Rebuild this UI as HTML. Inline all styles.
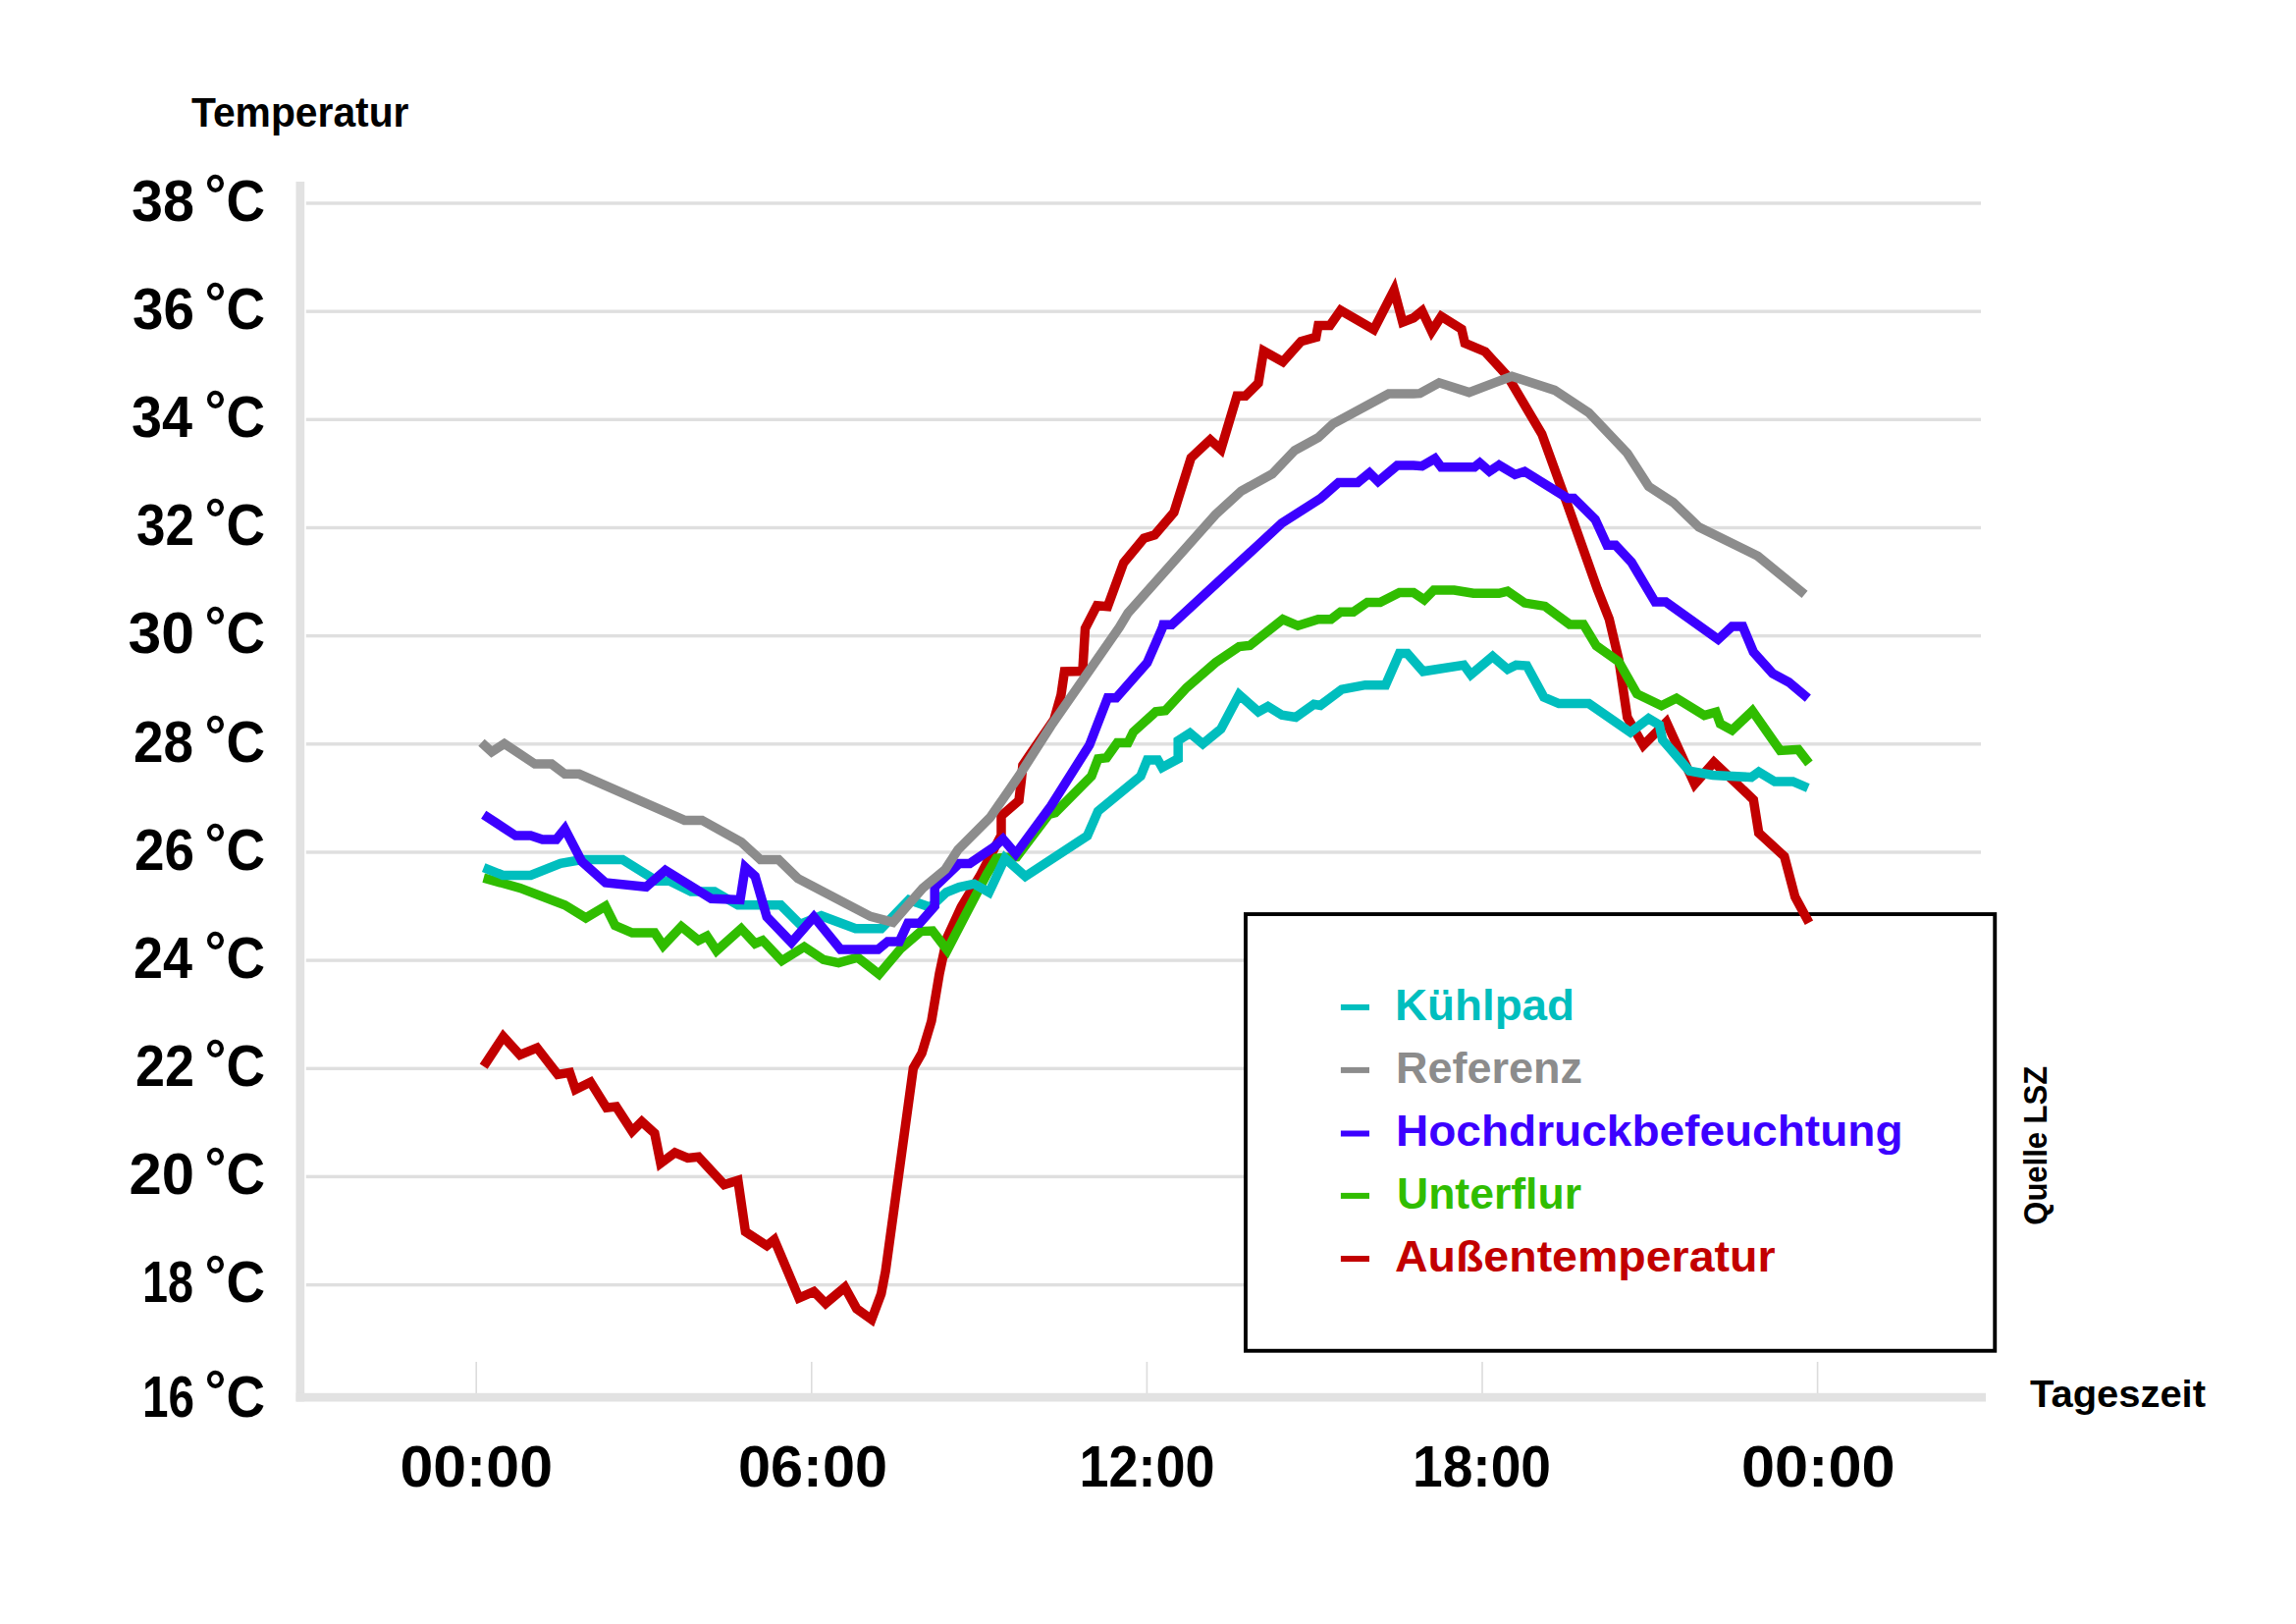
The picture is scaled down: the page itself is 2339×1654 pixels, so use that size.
<!DOCTYPE html>
<html><head><meta charset="utf-8"><title>Temperatur</title>
<style>
html,body{margin:0;padding:0;background:#fff;}
body{width:2339px;height:1654px;overflow:hidden;}
svg{display:block;}
text{font-family:"Liberation Sans",sans-serif;font-weight:bold;}
.ln{fill:none;stroke-width:9.5;stroke-linejoin:miter;stroke-linecap:butt;}
</style></head><body>
<svg width="2339" height="1654" viewBox="0 0 2339 1654">
<rect width="2339" height="1654" fill="#ffffff"/>

<rect x="311.8" y="205.3" width="1706.2" height="3.4" fill="#dfdfdf"/>
<rect x="311.8" y="315.5" width="1706.2" height="3.4" fill="#dfdfdf"/>
<rect x="311.8" y="425.6" width="1706.2" height="3.4" fill="#dfdfdf"/>
<rect x="311.8" y="535.8" width="1706.2" height="3.4" fill="#dfdfdf"/>
<rect x="311.8" y="645.9" width="1706.2" height="3.4" fill="#dfdfdf"/>
<rect x="311.8" y="756.1" width="1706.2" height="3.4" fill="#dfdfdf"/>
<rect x="311.8" y="866.3" width="1706.2" height="3.4" fill="#dfdfdf"/>
<rect x="311.8" y="976.4" width="1706.2" height="3.4" fill="#dfdfdf"/>
<rect x="311.8" y="1086.6" width="1706.2" height="3.4" fill="#dfdfdf"/>
<rect x="311.8" y="1196.7" width="1706.2" height="3.4" fill="#dfdfdf"/>
<rect x="311.8" y="1306.9" width="1706.2" height="3.4" fill="#dfdfdf"/>
<rect x="484.4" y="1387" width="1.6" height="32" fill="#dcdcdc"/>
<rect x="826.0" y="1387" width="1.6" height="32" fill="#dcdcdc"/>
<rect x="1167.6" y="1387" width="1.6" height="32" fill="#dcdcdc"/>
<rect x="1509.2" y="1387" width="1.6" height="32" fill="#dcdcdc"/>
<rect x="1850.8" y="1387" width="1.6" height="32" fill="#dcdcdc"/>
<rect x="301.5" y="185" width="8.7" height="1242.5" fill="#e2e2e2"/>
<rect x="301.5" y="1418.8" width="1721.5" height="8.7" fill="#e2e2e2"/>
<rect x="1268.95" y="931.05" width="763.3" height="444.7" fill="#ffffff" stroke="#000000" stroke-width="3.9"/>
<path class="ln" stroke="#c20000" d="M492.7,1086.2 L512.7,1055.7 L529.7,1074.4 L547.1,1067.2 L568.2,1094.4 L580.4,1092.3 L586.3,1109.7 L601.6,1102.1 L617.9,1128.2 L627.7,1127.1 L644.0,1152.2 L653.8,1142.4 L666.9,1154.3 L673.0,1184.8 L687.6,1173.9 L700.6,1179.4 L711.5,1178.3 L737.7,1206.6 L751.8,1202.2 L759.4,1254.5 L781.2,1268.7 L788.8,1262.6 L813.9,1322.0 L829.1,1315.5 L841.1,1327.5 L860.7,1311.1 L872.7,1332.9 L887.9,1343.8 L897.7,1317.7 L902.1,1294.8 L930.4,1087.9 L939.1,1072.7 L948.9,1040.0 L957.0,991.7 L964.8,955.1 L979.2,923.7 L998.8,891.1 L1020.0,850.6 L1020.0,831.0 L1038.0,815.3 L1040.6,793.1 L1041.9,779.4 L1047.8,770.7 L1073.9,732.6 L1080.9,707.9 L1084.4,684.0 L1102.9,683.6 L1105.5,640.0 L1117.5,616.7 L1128.4,617.7 L1144.7,573.1 L1165.4,548.1 L1176.3,544.8 L1195.9,521.9 L1213.3,466.4 L1232.9,447.9 L1243.8,457.7 L1260.1,403.2 L1268.8,403.2 L1281.9,390.2 L1287.3,357.5 L1306.9,368.4 L1325.5,347.7 L1340.7,343.4 L1342.9,331.4 L1354.9,331.4 L1365.7,316.1 L1399.5,335.7 L1420.2,295.4 L1428.9,328.1 L1440.0,323.8 L1448.7,316.8 L1458.5,337.5 L1468.3,322.3 L1489.0,335.3 L1492.3,349.5 L1513.0,358.2 L1535.8,383.2 L1570.7,442.0 L1596.8,513.9 L1627.3,600.0 L1639.3,630.5 L1649.1,671.9 L1657.8,730.7 L1674.1,759.0 L1697.6,735.5 L1726.4,798.6 L1746.0,776.4 L1786.3,814.5 L1791.7,848.3 L1817.8,872.2 L1828.7,913.6 L1842.9,939.7"/>
<path class="ln" stroke="#30bd00" d="M492.7,894.2 L529.7,904.4 L575.4,921.8 L596.8,934.9 L616.8,922.9 L626.6,942.5 L644.0,950.1 L666.9,950.1 L675.6,963.2 L694.1,943.6 L711.5,957.8 L720.2,953.4 L730.0,968.2 L755.1,945.8 L769.2,961.0 L776.9,957.8 L796.5,978.5 L819.3,964.3 L838.9,977.4 L854.2,980.6 L873.8,975.2 L895.5,992.2 L917.3,966.5 L938.0,948.6 L950.0,948.0 L965.0,967.7 L983.6,931.8 L1005.3,890.4 L1015.1,874.1 L1035.8,872.6 L1068.5,829.5 L1075.0,827.7 L1112.0,790.3 L1118.6,772.8 L1127.3,771.8 L1138.2,756.5 L1149.1,756.5 L1154.5,745.6 L1177.4,724.9 L1187.2,723.8 L1208.9,700.3 L1238.3,674.8 L1262.3,658.5 L1273.2,657.4 L1306.9,630.8 L1322.2,637.3 L1342.9,630.8 L1355.9,630.8 L1365.7,623.2 L1378.8,623.2 L1393.0,613.4 L1406.0,613.4 L1425.6,603.6 L1440.0,603.6 L1450.9,610.8 L1460.7,601.0 L1481.4,601.0 L1501.0,604.3 L1527.1,604.3 L1535.8,602.1 L1553.2,614.1 L1573.9,617.4 L1599.0,635.9 L1613.1,635.9 L1626.2,657.7 L1649.1,674.0 L1667.6,706.7 L1692.6,718.7 L1707.9,711.1 L1736.2,728.5 L1748.1,725.2 L1752.5,737.2 L1764.5,743.7 L1785.2,724.1 L1813.5,764.4 L1832.0,763.3 L1842.9,777.5"/>
<path class="ln" stroke="#00bebe" d="M492.7,883.7 L512.3,891.4 L540.6,891.4 L571.1,879.4 L592.8,875.5 L634.2,875.5 L669.1,897.2 L682.1,897.2 L703.9,908.1 L727.9,908.1 L751.8,921.8 L795.4,921.8 L815.0,941.4 L836.7,932.7 L871.6,945.8 L897.7,945.8 L926.0,916.4 L947.8,924.0 L964.0,908.9 L977.0,903.5 L992.3,900.2 L1007.5,908.9 L1023.8,874.1 L1044.5,892.6 L1107.7,851.2 L1118.6,826.2 L1162.1,790.3 L1168.7,773.9 L1179.5,773.9 L1183.9,781.6 L1200.2,772.8 L1200.2,754.3 L1212.2,746.7 L1225.3,757.6 L1243.8,742.4 L1262.3,707.5 L1281.9,724.9 L1291.7,719.5 L1305.9,728.2 L1320.0,730.4 L1338.5,717.3 L1345.1,718.4 L1366.8,702.1 L1390.8,697.7 L1411.5,697.7 L1425.6,665.5 L1433.7,665.5 L1449.8,683.8 L1491.2,677.3 L1498.4,687.1 L1520.6,668.6 L1535.8,681.7 L1544.5,677.3 L1555.4,678.0 L1572.8,710.0 L1588.1,716.5 L1618.6,716.5 L1661.0,745.9 L1679.5,731.8 L1690.4,738.3 L1693.7,753.5 L1720.9,785.1 L1744.9,789.5 L1784.1,791.6 L1791.7,786.2 L1808.0,796.0 L1826.5,796.0 L1841.8,802.5"/>
<path class="ln" stroke="#3c00ff" d="M492.7,829.7 L525.3,851.1 L540.6,851.1 L552.6,855.0 L566.7,855.0 L575.4,844.1 L592.8,877.6 L616.8,899.0 L658.2,903.3 L677.8,886.3 L724.6,915.3 L754.0,916.4 L759.2,883.3 L769.2,892.4 L781.2,933.8 L806.3,959.9 L829.1,933.8 L856.3,966.9 L894.5,966.9 L904.3,958.9 L916.2,958.9 L924.9,940.3 L936.9,940.3 L952.2,922.9 L952.2,903.3 L977.0,879.5 L987.9,879.5 L1011.9,863.2 L1021.7,854.5 L1034.7,869.7 L1070.7,820.7 L1109.9,758.7 L1128.4,710.8 L1137.1,710.8 L1168.7,674.8 L1183.9,640.0 L1185.0,636.3 L1193.7,636.3 L1305.9,532.8 L1345.1,507.8 L1363.6,491.4 L1383.2,491.4 L1395.1,481.6 L1403.9,490.3 L1423.4,474.0 L1440.0,474.0 L1448.7,474.7 L1461.8,467.1 L1468.3,475.8 L1502.1,475.8 L1507.5,471.4 L1517.3,480.1 L1527.1,473.6 L1543.4,483.4 L1553.2,480.1 L1596.8,507.4 L1603.3,507.4 L1625.1,529.1 L1637.1,555.3 L1645.8,555.3 L1662.1,572.7 L1686.1,613.1 L1697.0,613.1 L1750.3,651.2 L1764.5,638.1 L1775.4,638.1 L1786.3,664.2 L1805.9,686.0 L1822.2,694.7 L1841.8,711.1"/>
<path class="ln" stroke="#8c8c8c" d="M490.5,756.3 L500.9,765.7 L513.8,757.4 L544.9,778.1 L561.9,778.1 L575.4,788.3 L590.0,788.3 L697.4,835.4 L715.2,835.4 L755.1,857.6 L774.7,875.5 L793.2,875.5 L812.8,894.6 L886.8,933.4 L909.7,939.3 L926.0,920.7 L940.0,904.6 L962.9,885.6 L975.9,865.4 L1008.6,832.7 L1038.0,790.3 L1070.7,739.1 L1105.5,689.0 L1140.3,638.9 L1149.1,624.3 L1238.3,524.1 L1264.5,500.1 L1296.1,482.7 L1318.9,458.8 L1342.9,445.7 L1358.1,431.6 L1414.7,401.1 L1440.0,401.1 L1446.5,400.7 L1466.1,389.8 L1496.6,399.6 L1540.2,383.2 L1583.7,397.4 L1618.6,420.3 L1657.8,461.6 L1679.5,495.4 L1704.6,511.7 L1730.7,536.8 L1790.6,566.2 L1838.5,605.4"/>
<text x="195.00" y="128.8" font-size="41.7" fill="#000" textLength="221.50" lengthAdjust="spacingAndGlyphs">Temperatur</text>
<text x="407.50" y="1513.6" font-size="58.5" fill="#000" textLength="155.50" lengthAdjust="spacingAndGlyphs">00:00</text>
<text x="752.00" y="1513.6" font-size="58.5" fill="#000" textLength="152.00" lengthAdjust="spacingAndGlyphs">06:00</text>
<text x="1099.50" y="1513.6" font-size="58.5" fill="#000" textLength="138.00" lengthAdjust="spacingAndGlyphs">12:00</text>
<text x="1439.00" y="1513.6" font-size="58.5" fill="#000" textLength="141.00" lengthAdjust="spacingAndGlyphs">18:00</text>
<text x="1774.00" y="1513.6" font-size="58.5" fill="#000" textLength="156.50" lengthAdjust="spacingAndGlyphs">00:00</text>
<text x="2068.00" y="1433.2" font-size="39.5" fill="#000" textLength="179.00" lengthAdjust="spacingAndGlyphs">Tageszeit</text>
<text x="1421.00" y="1038.7" font-size="45" fill="#00bebe" textLength="183.00" lengthAdjust="spacingAndGlyphs">Kühlpad</text>
<text x="1422.00" y="1102.7" font-size="45" fill="#8c8c8c" textLength="190.00" lengthAdjust="spacingAndGlyphs">Referenz</text>
<text x="1422.00" y="1167.3" font-size="45" fill="#3c00ff" textLength="516.50" lengthAdjust="spacingAndGlyphs">Hochdruckbefeuchtung</text>
<text x="1423.00" y="1230.7" font-size="45" fill="#30bd00" textLength="188.00" lengthAdjust="spacingAndGlyphs">Unterflur</text>
<text x="1421.00" y="1294.8" font-size="45" fill="#c20000" textLength="387.50" lengthAdjust="spacingAndGlyphs">Außentemperatur</text>
<text x="134.00" y="224.7" font-size="58.5" fill="#000" textLength="64.00" lengthAdjust="spacingAndGlyphs">38</text>
<text x="208.50" y="224.7" font-size="58.5" fill="#000" textLength="61.50" lengthAdjust="spacingAndGlyphs"><tspan dy="-6">°</tspan><tspan dy="6">C</tspan></text>
<text x="135.00" y="334.9" font-size="58.5" fill="#000" textLength="63.00" lengthAdjust="spacingAndGlyphs">36</text>
<text x="208.50" y="334.9" font-size="58.5" fill="#000" textLength="61.50" lengthAdjust="spacingAndGlyphs"><tspan dy="-6">°</tspan><tspan dy="6">C</tspan></text>
<text x="134.00" y="445.0" font-size="58.5" fill="#000" textLength="62.00" lengthAdjust="spacingAndGlyphs">34</text>
<text x="208.50" y="445.0" font-size="58.5" fill="#000" textLength="61.50" lengthAdjust="spacingAndGlyphs"><tspan dy="-6">°</tspan><tspan dy="6">C</tspan></text>
<text x="139.00" y="555.2" font-size="58.5" fill="#000" textLength="59.00" lengthAdjust="spacingAndGlyphs">32</text>
<text x="208.50" y="555.2" font-size="58.5" fill="#000" textLength="61.50" lengthAdjust="spacingAndGlyphs"><tspan dy="-6">°</tspan><tspan dy="6">C</tspan></text>
<text x="130.50" y="665.3" font-size="58.5" fill="#000" textLength="67.50" lengthAdjust="spacingAndGlyphs">30</text>
<text x="208.50" y="665.3" font-size="58.5" fill="#000" textLength="61.50" lengthAdjust="spacingAndGlyphs"><tspan dy="-6">°</tspan><tspan dy="6">C</tspan></text>
<text x="136.00" y="775.5" font-size="58.5" fill="#000" textLength="61.00" lengthAdjust="spacingAndGlyphs">28</text>
<text x="208.50" y="775.5" font-size="58.5" fill="#000" textLength="61.50" lengthAdjust="spacingAndGlyphs"><tspan dy="-6">°</tspan><tspan dy="6">C</tspan></text>
<text x="137.00" y="885.7" font-size="58.5" fill="#000" textLength="61.00" lengthAdjust="spacingAndGlyphs">26</text>
<text x="208.50" y="885.7" font-size="58.5" fill="#000" textLength="61.50" lengthAdjust="spacingAndGlyphs"><tspan dy="-6">°</tspan><tspan dy="6">C</tspan></text>
<text x="136.00" y="995.8" font-size="58.5" fill="#000" textLength="60.00" lengthAdjust="spacingAndGlyphs">24</text>
<text x="208.50" y="995.8" font-size="58.5" fill="#000" textLength="61.50" lengthAdjust="spacingAndGlyphs"><tspan dy="-6">°</tspan><tspan dy="6">C</tspan></text>
<text x="138.00" y="1106.0" font-size="58.5" fill="#000" textLength="60.00" lengthAdjust="spacingAndGlyphs">22</text>
<text x="208.50" y="1106.0" font-size="58.5" fill="#000" textLength="61.50" lengthAdjust="spacingAndGlyphs"><tspan dy="-6">°</tspan><tspan dy="6">C</tspan></text>
<text x="131.50" y="1216.1" font-size="58.5" fill="#000" textLength="66.50" lengthAdjust="spacingAndGlyphs">20</text>
<text x="208.50" y="1216.1" font-size="58.5" fill="#000" textLength="61.50" lengthAdjust="spacingAndGlyphs"><tspan dy="-6">°</tspan><tspan dy="6">C</tspan></text>
<text x="145.00" y="1326.3" font-size="58.5" fill="#000" textLength="52.00" lengthAdjust="spacingAndGlyphs">18</text>
<text x="208.50" y="1326.3" font-size="58.5" fill="#000" textLength="61.50" lengthAdjust="spacingAndGlyphs"><tspan dy="-6">°</tspan><tspan dy="6">C</tspan></text>
<text x="145.00" y="1442.8" font-size="58.5" fill="#000" textLength="53.00" lengthAdjust="spacingAndGlyphs">16</text>
<text x="208.50" y="1442.8" font-size="58.5" fill="#000" textLength="61.50" lengthAdjust="spacingAndGlyphs"><tspan dy="-6">°</tspan><tspan dy="6">C</tspan></text>
<text transform="translate(2084.7,1247.7) rotate(-90)" font-size="34" textLength="161.8" lengthAdjust="spacingAndGlyphs">Quelle LSZ</text>
<rect x="1365.9" y="1022.9" width="29.1" height="6" fill="#00bebe"/>
<rect x="1365.9" y="1086.9" width="29.1" height="6" fill="#8c8c8c"/>
<rect x="1365.9" y="1151.5" width="29.1" height="6" fill="#3c00ff"/>
<rect x="1365.9" y="1214.9" width="29.1" height="6" fill="#30bd00"/>
<rect x="1365.9" y="1279.0" width="29.1" height="6" fill="#c20000"/>
</svg></body></html>
